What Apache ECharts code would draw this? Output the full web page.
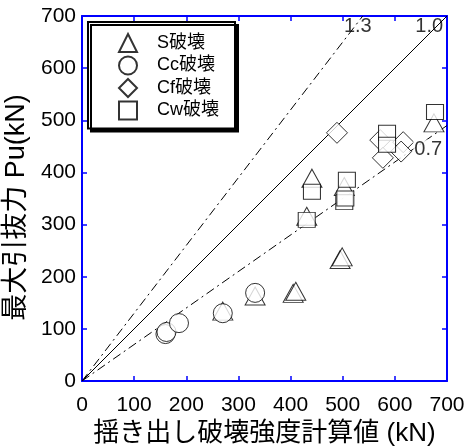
<!DOCTYPE html>
<html><head><meta charset="utf-8">
<script src="https://cdn.jsdelivr.net/npm/echarts@6/dist/echarts.min.js"></script>
<style>html,body{margin:0;padding:0;background:#fff}#c{width:465px;height:446px}</style>
</head><body><div id="c"></div>
<script>
const seriesNames = ['S破壊', 'Cc破壊', 'Cf破壊', 'Cw破壊'];
const sData  = [[270,134],[332,163],[405,168],[410,172],[495,233],[499,238],[441,389],[503,373],[431,316],[675,495]];
const ccData = [[160,90],[162,94],[186,111],[270,130],[332,169]];
const cfData = [[489,476],[572,462],[577,428],[616,458],[612,440]];
const cwData = [[441,363],[431,309],[508,386],[503,343],[505,350],[585,476],[585,453],[677,516]];
const ratios = [1.3, 1.0, 0.7];
const ratioLabels = ['1.3', '1.0', '0.7'];

const FONT = "'Liberation Sans', Arial, 'Noto Sans CJK JP', sans-serif";
const blue = '#0000ff';
const mk = {color:'#fff', borderColor:'#000', borderWidth:1};

function ratioLine(r){
  const xEnd = Math.min(700, 700/r);
  return [[0,0],[xEnd, xEnd*r]];
}
const labelPos = [[529,679],[666,679],[664,444]];

const chart = echarts.init(document.getElementById('c'));
const axisCommon = {
  type:'value', min:0, max:700, interval:100,
  axisLine:{show:true, onZero:false, lineStyle:{color:blue, width:2}},
  axisTick:{show:true, inside:true, length:5, lineStyle:{color:blue, width:1.5}},
  splitLine:{show:false},
};
chart.setOption({
  animation:false,
  backgroundColor:'#fff',
  grid:{left:82, right:18, top:16, bottom:65, containLabel:false, outerBoundsMode:'none'},
  legend:{
    data:seriesNames, orient:'vertical', left:88, top:22,
    backgroundColor:'#fff', borderColor:'#000', borderWidth:2,
    shadowColor:'#000', shadowBlur:0, shadowOffsetX:3, shadowOffsetY:3,
    padding:[11,16,8,30], itemWidth:18, itemHeight:18, itemGap:2.5,
    textStyle:{fontSize:18, lineHeight:18, color:'#000', fontFamily:FONT, padding:[0,0,0,15]},
  },
  xAxis:[
    Object.assign({}, axisCommon, {
      position:'bottom',
      name:'揺き出し破壊強度計算値 (kN)', nameLocation:'middle', nameGap:35,
      nameTextStyle:{fontSize:26, color:'#000', fontFamily:FONT},
      axisLabel:{fontSize:21, color:'#000', fontFamily:FONT, margin:14},
    }),
    Object.assign({}, axisCommon, {position:'top', axisLabel:{show:false}}),
  ],
  yAxis:[
    Object.assign({}, axisCommon, {
      position:'left',
      name:'最大引抜力 Pu(kN)', nameLocation:'middle', nameGap:50,
      nameTextStyle:{fontSize:27, color:'#000', fontFamily:FONT, padding:[0,18,0,0]},
      axisLabel:{fontSize:21, color:'#000', fontFamily:FONT, margin:6},
    }),
    Object.assign({}, axisCommon, {position:'right', axisLabel:{show:false}}),
  ],
  series:[
    {type:'line', data:ratioLine(ratios[0]), symbol:'none', silent:true, z:1,
     lineStyle:{color:'#000', width:1, type:[9,4,2,4]}},
    {type:'line', data:ratioLine(ratios[1]), symbol:'none', silent:true, z:1,
     lineStyle:{color:'#000', width:1}},
    {type:'line', data:ratioLine(ratios[2]), symbol:'none', silent:true, z:1,
     lineStyle:{color:'#000', width:1, type:[9,4,2,4]}},
    {name:seriesNames[0], type:'scatter', data:sData, symbol:'triangle', symbolSize:[20,18], itemStyle:mk, z:2},
    {name:seriesNames[2], type:'scatter', data:cfData, symbol:'diamond', symbolSize:21, itemStyle:mk, z:3},
    {name:seriesNames[1], type:'scatter', data:ccData, symbol:'circle', symbolSize:19, itemStyle:mk, z:4},
    {name:seriesNames[3], type:'scatter', data:cwData, symbol:'rect', symbolSize:[17,15], itemStyle:mk, z:5},
    {type:'scatter', silent:true, z:6, symbolSize:1, itemStyle:{color:'rgba(0,0,0,0)'},
     data:labelPos.map((p,i)=>({value:p, name:ratioLabels[i],
       label:{show:true, position:'inside', formatter:ratioLabels[i], fontSize:20, color:'#000', fontFamily:FONT,
         backgroundColor: i===2 ? '#fff' : 'transparent', padding: i===2 ? [0,1] : 0}}))},
  ]
});
</script></body></html>
